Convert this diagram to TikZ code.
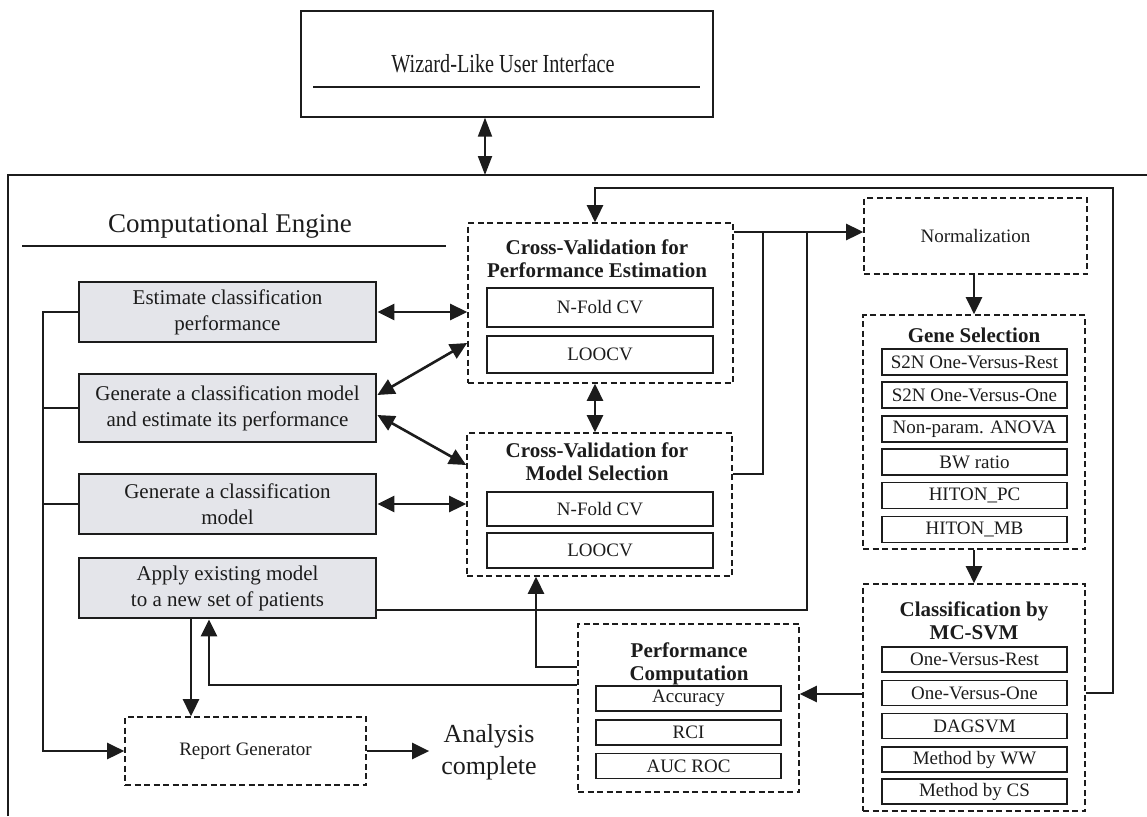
\documentclass[tikz,border=0pt]{standalone}
\usepackage{fontspec}
\setmainfont{Liberation Serif}
\usepackage{graphicx}
\usetikzlibrary{arrows.meta,calc}
\definecolor{boxgray}{RGB}{228,229,234}
\definecolor{ink}{RGB}{28,28,28}
\begin{document}
\begin{tikzpicture}[x=1pt,y=-1pt,
  every node/.style={inner sep=0pt, text=ink},
  graybox/.style={draw=ink, line width=2.8pt, fill=boxgray, font=\fontsize{21}{26}\selectfont, align=center, minimum width=297pt},
  dashbox/.style={draw=ink, line width=1.6pt, dash pattern=on 6pt off 3.5pt},
  subbox/.style={draw=ink, line width=1.8pt, font=\fontsize{19}{22}\selectfont},
  ttl/.style={font=\bfseries\fontsize{21}{23}\selectfont, align=center},
  conn/.style={draw=ink, line width=2.6pt},
  arr/.style={conn, -{Triangle[length=17pt,width=16pt]}},
  dbl/.style={conn, {Triangle[length=17pt,width=16pt]}-{Triangle[length=17pt,width=16pt]}},
]
\useasboundingbox (0,0) rectangle (1147,816);

% frames
\draw[ink, line width=1.5pt] (8,816) -- (8,175) -- (1147,175);
\node[draw=ink, line width=1.3pt, minimum width=412pt, minimum height=106pt] (wiz) at (507,64) {};
\node (wizt) at (503,64) {\scalebox{0.78}[1]{\fontsize{26}{30}\selectfont Wizard-Like User Interface}};
\draw[ink, line width=1.8pt] (313,87) -- (700,87);
\node[anchor=base, font=\fontsize{27}{32}\selectfont] (cet) at (230,232) {Computational Engine};
\draw[ink, line width=2pt] (22,246) -- (446,246);

% left gray boxes
\node[graybox, minimum height=60pt] (est) at (227.5,312) {Estimate classification\\performance};
\node[graybox, minimum height=68pt] (gen) at (227.5,408) {Generate a classification model\\and estimate its performance};
\node[graybox, minimum height=60pt] (genm) at (227.5,504) {Generate a classification\\model};
\node[graybox, minimum height=60pt] (app) at (227.5,588) {Apply existing model\\to a new set of patients};

% cross-validation boxes
\node[dashbox, minimum width=265pt, minimum height=160pt] (pe) at (600.5,303) {};
\node[ttl] (pet) at (597,259) {Cross-Validation for\\Performance Estimation};
\node[subbox, minimum width=226pt, minimum height=39pt] (pe1) at (600,307.5) {N-Fold CV};
\node[subbox, minimum width=226pt, minimum height=37pt] (pe2) at (600,354.5) {LOOCV};

\node[dashbox, minimum width=265pt, minimum height=143pt] (ms) at (599.5,504.5) {};
\node[ttl] (mst) at (597,462) {Cross-Validation for\\Model Selection};
\node[subbox, minimum width=226pt, minimum height=34pt] (ms1) at (600,509) {N-Fold CV};
\node[subbox, minimum width=226pt, minimum height=35pt] (ms2) at (600,550.5) {LOOCV};

% normalization
\node[dashbox, minimum width=223pt, minimum height=76pt, font=\fontsize{19}{22}\selectfont] (norm) at (975.5,236) {Normalization};

% gene selection
\node[dashbox, minimum width=222pt, minimum height=234pt] (gs) at (974,432) {};
\node[ttl, anchor=base] (gst) at (974,342) {Gene Selection};
\node[subbox, minimum width=185pt, minimum height=26pt] (gs1) at (974.5,362) {S2N One-Versus-Rest};
\node[subbox, minimum width=185pt, minimum height=26pt] (gs2) at (974.5,395) {S2N One-Versus-One};
\node[subbox, minimum width=185pt, minimum height=26pt] (gs3) at (974.5,429) {Non-param. ANOVA};
\node[subbox, minimum width=185pt, minimum height=26pt] (gs4) at (974.5,462) {BW ratio};
\node[subbox, minimum width=185pt, minimum height=26pt] (gs5) at (974.5,495.5) {HITON\_PC};
\node[subbox, minimum width=185pt, minimum height=26pt] (gs6) at (974.5,529.5) {HITON\_MB};

% classification
\node[dashbox, minimum width=222pt, minimum height=227pt] (cl) at (974,697.5) {};
\node[ttl] (clt) at (974,621) {Classification by\\MC-SVM};
\node[subbox, minimum width=185pt, minimum height=25pt] (cl1) at (974.5,659.5) {One-Versus-Rest};
\node[subbox, minimum width=185pt, minimum height=25pt] (cl2) at (974.5,693) {One-Versus-One};
\node[subbox, minimum width=185pt, minimum height=25pt] (cl3) at (974.5,726) {DAGSVM};
\node[subbox, minimum width=185pt, minimum height=25pt] (cl4) at (974.5,759.5) {Method by WW};
\node[subbox, minimum width=185pt, minimum height=25pt] (cl5) at (974.5,791.5) {Method by CS};

% performance computation
\node[dashbox, minimum width=221pt, minimum height=168pt] (pc) at (688.5,708) {};
\node[ttl] (pct) at (689,663.5) {Performance\\Computation};
\node[subbox, minimum width=185pt, minimum height=25pt] (pc1) at (688.5,698.5) {Accuracy};
\node[subbox, minimum width=185pt, minimum height=25pt] (pc2) at (688.5,732.5) {RCI};
\node[subbox, minimum width=185pt, minimum height=25pt] (pc3) at (688.5,766) {AUC ROC};

% report
\node[dashbox, minimum width=241pt, minimum height=68pt, font=\fontsize{19}{22}\selectfont] (rg) at (245.5,751) {Report Generator};
\node[font=\fontsize{26}{32}\selectfont, align=center, inner xsep=12pt] (ac) at (489,752) {Analysis\\complete};

% connectors
\coordinate (ce) at (485,175);
\draw[draw=ink, line width=2pt, {Triangle[length=19pt,width=14pt]}-{Triangle[length=19pt,width=14pt]}] (ce |- wiz.south) -- (ce);

\draw[dbl] (est.east) -- (est.east -| pe.west);
\draw[dbl] ([yshift=13pt]gen.east) -- ([yshift=-40pt]pe.west);
\draw[dbl] ([yshift=-7pt]gen.east) -- ([yshift=39.5pt]ms.west);
\draw[dbl] (genm.east) -- (genm.east -| ms.west);
\draw[dbl] ([xshift=-5.5pt]pe.south) -- ([xshift=-5.5pt]pe.south |- ms.north);

\coordinate (j0) at ([yshift=71pt]pe.east);
\coordinate (j1) at (763,232);
\coordinate (j2) at (807,232);
\draw[arr] (j0) -- (j0 -| norm.west);
\draw[conn] ([yshift=30.5pt]ms.east) -| (j1);
\draw[conn] ([yshift=-22pt]app.east) -| (j2);

\draw[arr] (gs.north |- norm.south) -- (gs.north);
\draw[arr] (gs.south) -- (cl.north);
\coordinate (lp) at (1113,188);
\draw[arr] ([yshift=4.5pt]cl.east) -| (lp) -| ([xshift=-5.5pt]pe.north);
\draw[arr] ([yshift=3.5pt]cl.west) -- ([yshift=3.5pt]cl.west -| pc.east);
\draw[arr] ([yshift=41pt]pc.west) -| ([xshift=-63.5pt]ms.south);
\draw[arr] ([yshift=23pt]pc.west) -| ([xshift=-18.5pt]app.south);
\draw[arr] ([xshift=-36.5pt]app.south) -- ([xshift=-36.5pt]app.south |- rg.north);

\coordinate (bus) at (43,312);
\draw[arr] (est.west) -| (bus |- rg.west) -- (rg.west);
\draw[conn] (gen.west) -- (gen.west -| bus);
\draw[conn] (genm.west) -- (genm.west -| bus);
\draw[arr] (rg.east) -- (rg.east -| ac.west);
\end{tikzpicture}
\end{document}
